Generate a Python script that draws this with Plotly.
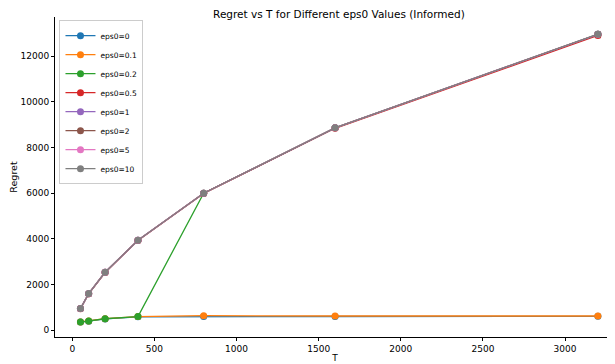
import plotly.graph_objects as go

T = [50, 100, 200, 400, 800, 1600, 3200]
labels = ["eps0=0", "eps0=0.1", "eps0=0.2", "eps0=0.5", "eps0=1", "eps0=2", "eps0=5", "eps0=10"]
regret_0 = [360, 400, 500, 590, 600, 605, 610]
regret_01 = [365, 410, 510, 600, 640, 625, 625]
regret_02 = [360, 405, 505, 600, 6000, 8860, 12950]
regret_05 = [945, 1600, 2530, 3930, 5990, 8840, 12900]
regret_1 = [950, 1605, 2540, 3940, 6000, 8860, 12950]
regret_2 = [950, 1605, 2540, 3940, 6000, 8860, 12950]
regret_5 = [950, 1610, 2540, 3940, 6000, 8860, 12955]
regret_10 = [950, 1610, 2540, 3940, 6000, 8860, 12960]
err_0 = [15, 20, 25, 30, 30, 30, 30]
err_01 = [15, 20, 25, 30, 35, 35, 35]
err_02 = [15, 20, 25, 30, 60, 70, 80]
err_high = [40, 50, 60, 60, 70, 80, 90]
x_ticks = [0, 500, 1000, 1500, 2000, 2500, 3000]
y_ticks = [0, 2000, 4000, 6000, 8000, 10000, 12000]

series = [regret_0, regret_01, regret_02, regret_05, regret_1, regret_2, regret_5, regret_10]
errors = [err_0, err_01, err_02, err_high, err_high, err_high, err_high, err_high]
colors = ["#1f77b4", "#ff7f0e", "#2ca02c", "#d62728", "#9467bd", "#8c564b", "#e377c2", "#7f7f7f"]

fig = go.Figure()
for lab, ys, es, c in zip(labels, series, errors, colors):
    fig.add_trace(go.Scatter(
        x=T, y=ys, name=lab, mode="lines+markers",
        line=dict(color=c, width=1.3),
        marker=dict(color=c, size=7),
        error_y=dict(type="data", array=es, visible=True, color=c, thickness=1, width=3),
    ))

font = dict(family="DejaVu Sans", size=9, color="black")
fig.update_layout(
    width=607, height=356,
    margin=dict(l=47, r=0, t=9, b=27, autoexpand=False),
    paper_bgcolor="white", plot_bgcolor="white",
    font=font,
    title=dict(text="Regret vs T for Different eps0 Values (Informed)", xref="paper", x=0.507,
               xanchor="center", yref="container", y=1 - 6.5 / 356, yanchor="middle",
               font=dict(family="DejaVu Sans", size=10.5, color="black")),
    showlegend=True,
    legend=dict(x=0.008, y=0.99, xanchor="left", yanchor="top", bgcolor="rgba(255,255,255,0.8)",
                bordercolor="#cccccc", borderwidth=1, font=dict(family="DejaVu Sans", size=7.5),
                itemwidth=30, tracegroupgap=0),
)
fig.update_xaxes(range=[-105, 3304], showgrid=False, zeroline=False, showline=True, linecolor="black",
                 linewidth=1, ticks="outside", ticklen=3, tickcolor="black", automargin=False,
                 tickvals=x_ticks, tickformat="d",
                 title=dict(text="T", standoff=1, font=dict(size=9)))
fig.update_yaxes(range=[-293, 13710], showgrid=False, zeroline=False, showline=True, linecolor="black",
                 linewidth=1, ticks="outside", ticklen=3, tickcolor="black", automargin=False,
                 tickvals=y_ticks, tickformat="d",
                 title=dict(text="Regret", standoff=3, font=dict(size=9.5)))
fig.write_html("out.html")
